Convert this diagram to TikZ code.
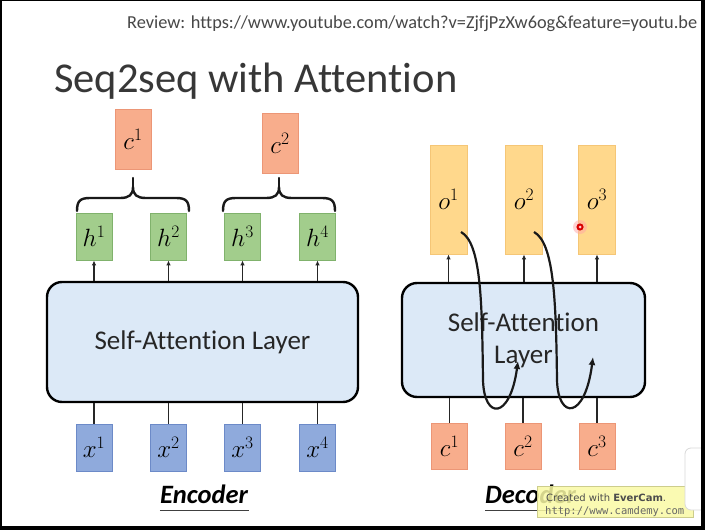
\RequirePackage{fix-cm}
\documentclass[tikz,border=0pt]{standalone}
\usepackage{fontspec}
\setmainfont[Ligatures=NoCommon]{Carlito}
\newfontfamily\wmfont{DejaVu Sans}
\newfontfamily\wmmono{DejaVu Sans Mono}
\usetikzlibrary{arrows.meta}
\definecolor{cfill}{RGB}{248,173,140}
\definecolor{cdraw}{RGB}{236,150,118}
\definecolor{hfill}{RGB}{162,205,140}
\definecolor{hdraw}{RGB}{128,178,108}
\definecolor{xfill}{RGB}{143,170,220}
\definecolor{xdraw}{RGB}{108,138,200}
\definecolor{ofill}{RGB}{255,216,140}
\definecolor{odraw}{RGB}{245,198,118}
\definecolor{lfill}{RGB}{220,233,247}
\definecolor{txtgray}{RGB}{55,55,55}
\definecolor{wmfill}{RGB}{250,250,165}
\definecolor{wmdraw}{RGB}{205,205,140}
\tikzset{
  box/.style={minimum width=36pt, inner sep=0pt, line width=0.8pt, font=\fontsize{25}{25}\selectfont},
  cbox/.style={box, draw=cdraw, fill=cfill},
  hbox/.style={box, draw=hdraw, fill=hfill, minimum height=47pt},
  xbox/.style={box, draw=xdraw, fill=xfill, minimum height=47pt},
  obox/.style={box, draw=odraw, fill=ofill, minimum width=37pt, minimum height=109pt},
  layer/.style={draw=black, fill=lfill, line width=2.4pt, rounded corners=15pt, inner sep=0pt,
    text=black!85, font=\fontsize{27}{32}\selectfont, align=center},
  uparrow/.style={line width=1.2pt, draw=black!85, -{Latex[length=5pt,width=4.5pt]}},
  plainline/.style={line width=1.2pt, draw=black!85},
  bracestyle/.style={line width=2.4pt, draw=black!90, line cap=round, line join=round},
  curvestyle/.style={line width=2.2pt, draw=black!90, -{Latex[length=8pt,width=7pt]}},
  labelstyle/.style={font=\fontsize{26.5}{26.5}\selectfont\bfseries\itshape, inner sep=0pt}
}
\begin{document}
\begin{tikzpicture}[x=1pt,y=-1pt]
\useasboundingbox (0,0) rectangle (705,530);
\fill[white] (0,0) rectangle (705,530);

% header
\node[anchor=base west, inner sep=0pt, text=black!72, font=\fontsize{18.3}{18.3}\selectfont] (review) at (127,28)
  {Review: https://www.youtube.com/watch?v=ZjfjPzXw6og\&feature=youtu.be};
\node[anchor=base west, inner sep=0pt, text=txtgray, font=\fontsize{42.5}{42.5}\selectfont] (title) at (54,92)
  {Seq2seq with Attention};

% ===== Encoder =====
\node[layer, minimum width=311pt, minimum height=120pt] (enc) at (202.5,342) {Self-Attention Layer};

\node[cbox, minimum height=60pt] (ec1) at (133,139) {$c^1$};
\node[cbox, minimum height=60pt] (ec2) at (280,143) {$c^2$};

\node[hbox] (h1) at (94,236.5) {$h^1$};
\node[hbox] (h2) at (168.5,236.5) {$h^2$};
\node[hbox] (h3) at (242.5,236.5) {$h^3$};
\node[hbox] (h4) at (317.5,236.5) {$h^4$};

\node[xbox] (x1) at (94,447.5) {$x^1$};
\node[xbox] (x2) at (168.5,447.5) {$x^2$};
\node[xbox] (x3) at (242.5,447.5) {$x^3$};
\node[xbox] (x4) at (317.5,447.5) {$x^4$};

\foreach \i in {1,2,3,4} {
  \draw[uparrow] (enc.north -| h\i) -- (h\i.south);
  \draw[plainline] (x\i.north) -- (enc.south -| x\i);
}

% braces
\draw[bracestyle] (77,211) .. controls (77,201) and (80,198) .. (90,198) -- (120,198)
  .. controls (129,198) and (133,195) .. (133,187) .. controls (133,195) and (137,198) .. (146,198)
  -- (176,198) .. controls (186,198) and (189,201) .. (189,211);
\draw[bracestyle] (133,187) -- (133,178);
\draw[bracestyle] (223,211) .. controls (223,201) and (226,198) .. (236,198) -- (266,198)
  .. controls (275,198) and (279,195) .. (279,187) .. controls (279,195) and (283,198) .. (292,198)
  -- (322,198) .. controls (332,198) and (335,201) .. (335,211);
\draw[bracestyle] (279,187) -- (279,178);

\node[labelstyle] (enclabel) at (204,494) {Encoder};
\draw[line width=1.2pt, black!75] (enclabel.south west) ++(0,7) -- ++(89,0);

% ===== Decoder =====
\node[layer, minimum width=243pt, minimum height=114pt] (dec) at (523.5,340) {Self-Attention\\Layer};

\node[obox] (o1) at (448.5,199.5) {$o^1$};
\node[obox] (o2) at (524,199.5) {$o^2$};
\node[obox] (o3) at (597,199.5) {$o^3$};

\node[cbox, minimum height=46pt] (dc1) at (449.5,446) {$c^1$};
\node[cbox, minimum height=46pt] (dc2) at (523,446) {$c^2$};
\node[cbox, minimum height=46pt] (dc3) at (597,446) {$c^3$};

\foreach \i in {1,2,3} {
  \draw[uparrow] (dec.north -| o\i) -- (o\i.south);
  \draw[plainline] (dc\i.north) -- (dec.south -| dc\i);
}

% curved arrows
\coordinate (s1) at (461,232);
\coordinate (m1) at (483,380);
\coordinate (e1) at (518,361);
\coordinate (s2) at (534,232);
\coordinate (m2) at (557,380);
\coordinate (e2) at (593,357);
\draw[curvestyle] (s1) .. controls (481,243) and (482,300) .. (m1) .. controls (484,420) and (510,420) .. (e1);
\draw[curvestyle] (s2) .. controls (554,243) and (556,300) .. (m2) .. controls (558,420) and (585,420) .. (e2);

% laser pointer dot
\fill[red!35, opacity=0.5] (580,227) circle (7);
\fill[red!85!black] (580,227) circle (3.6);
\fill[white!80!red] (580,227) circle (1.5);

\node[labelstyle, anchor=west] (declabel) at (485,494) {Decoder};
\draw[line width=1.2pt, black!75] (declabel.south west) ++(0,7) -- ++(97,0);

% watermark
\fill[wmfill, opacity=0.85] (537,486) rectangle (693,517);
\draw[wmdraw, line width=0.8pt] (537,486) rectangle (693,517);
\node[anchor=base west, inner sep=0pt, text=black!70, font=\wmfont\fontsize{10}{10}\selectfont] (wm1) at (546,501)
  {Created with \textbf{EverCam}.};
\node[anchor=base west, inner sep=0pt, text=black!60, font=\wmmono\fontsize{10.5}{10.5}\selectfont] (wm2) at (545,514)
  {http://www.camdemy.com};

% side ui element
\draw[black!15, fill=white, line width=0.8pt, rounded corners=6pt] (685,448) rectangle (715,510);

% frame
\fill[black] (0,0) rectangle (705,1.2);
\fill[black] (0,0) rectangle (1.8,530);
\fill[black] (701,0) rectangle (705,530);
\fill[black] (0,526) rectangle (705,530);
\end{tikzpicture}
\end{document}
